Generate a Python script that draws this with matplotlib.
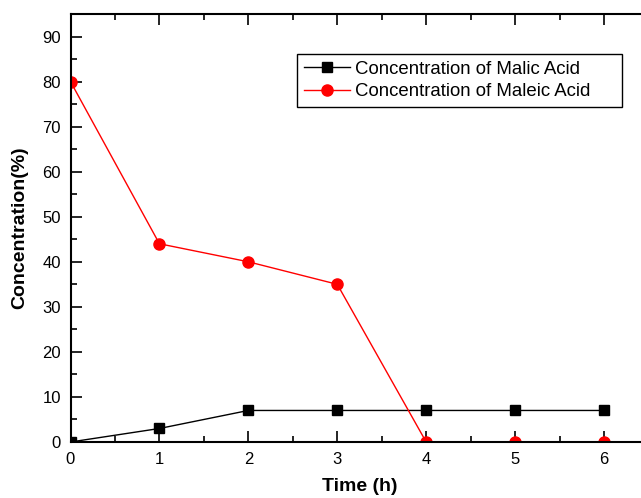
import matplotlib.pyplot as plt
from matplotlib.ticker import MultipleLocator

plt.rcParams['font.family'] = ['Liberation Sans', 'DejaVu Sans']

# data
time_h = [0, 1, 2, 3, 4, 5, 6]
malic = [0, 3, 7, 7, 7, 7, 7]
maleic = [80, 44, 40, 35, 0, 0, 0]

fig = plt.figure(figsize=(6.41, 4.98), dpi=100)
# axes runs off the right edge like the original crop
ax = fig.add_axes([70.5 / 641, 1 - 442 / 498, 578 / 641, 428 / 498])

ax.plot(time_h, malic, color='black', lw=1, marker='s', ms=7,
        label='Concentration of Malic Acid')
ax.plot(time_h, maleic, color='red', lw=1, marker='o', ms=8,
        label='Concentration of Maleic Acid')

ax.set_xlim(0, 6.5)
ax.set_ylim(0, 95)
ax.xaxis.set_major_locator(MultipleLocator(1))
ax.xaxis.set_minor_locator(MultipleLocator(0.5))
ax.yaxis.set_major_locator(MultipleLocator(10))
ax.yaxis.set_minor_locator(MultipleLocator(5))
ax.tick_params(which='both', direction='in', top=True, right=False,
               labelsize=12, width=1.2)
ax.tick_params(which='major', length=8, pad=7)
ax.tick_params(which='minor', length=4)
for s in ax.spines.values():
    s.set_linewidth(1.5)

ax.set_xlabel('Time (h)', fontsize=14, fontweight='bold', labelpad=8)
ax.set_ylabel('Concentration(%)', fontsize=14, fontweight='bold', labelpad=10)

# legend box spans x 297..622, y 54..105 px in the reference
leg = ax.legend(loc='upper left',
                bbox_to_anchor=(226.5 / 578, 1 - 40 / 428, 325 / 578, 0),
                mode='expand',
                fontsize=13.4, frameon=True, fancybox=False, framealpha=1,
                edgecolor='black', handlelength=2.5, handletextpad=0.25,
                borderpad=0.35, labelspacing=0.3, borderaxespad=0)
leg.get_frame().set_linewidth(1)

fig.savefig('out.png', dpi=100)
